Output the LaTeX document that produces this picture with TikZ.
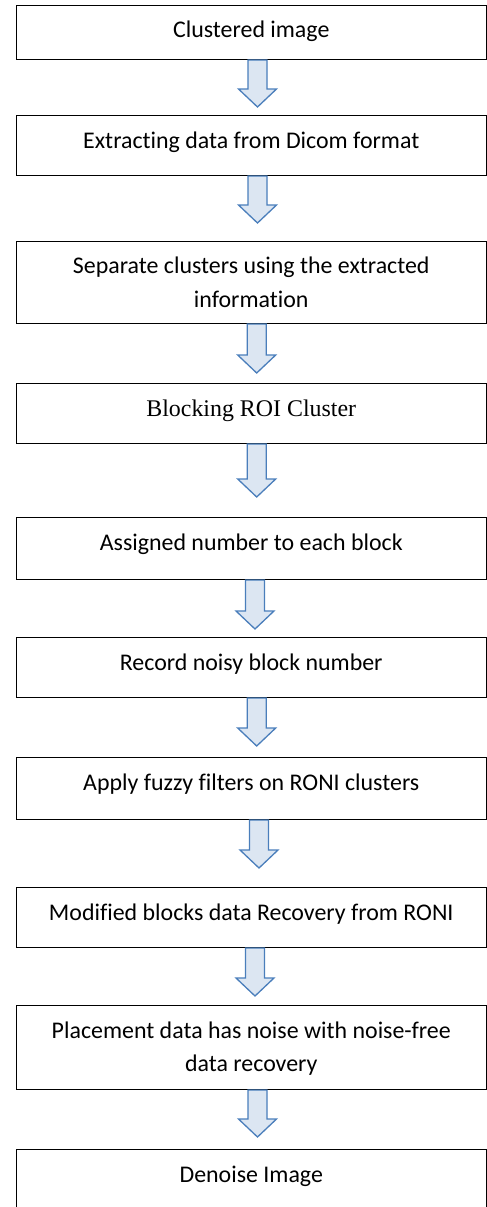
\documentclass[tikz,border=0pt]{standalone}
\usepackage{fontspec}
\setmainfont{Carlito}[Ligatures=CommonOff]
\newfontfamily\timesfont{Liberation Serif}
\usetikzlibrary{calc}
\definecolor{arrfill}{HTML}{DCE6F2}
\definecolor{arrline}{HTML}{4A7EBB}
\tikzset{
  stepbox/.style={draw=black, line width=1pt, fill=white, inner sep=0pt,
    minimum width=469.5pt, anchor=north},
  steptext/.style={font=\fontsize{23.9}{33.4}\selectfont, inner sep=0pt,
    anchor=base, align=center},
  blockarrow/.style={draw=arrline, fill=arrfill, line width=1.3pt, line join=miter},
  arrowshadow/.style={fill=black, opacity=0.10, draw=none},
}
% #1 source box, #2 name of shaft-top coordinate, #3 x centre, #4 shaft length
\newcommand\flowarrow[4]{%
  \coordinate (#2x) at (#3,0);
  \coordinate (#2) at (#1.south -| #2x);
  \fill[arrowshadow, xshift=0.8pt, yshift=-2.5pt] (#2) ++(-9.5,0) -- ++(0,#4) -- ++(-9.5,0)
     -- ++(19,18) -- ++(19,-18) -- ++(-9.5,0) -- ++(0,-#4) -- cycle;
  \draw[blockarrow] (#2) ++(-9.5,0) -- ++(0,#4) -- ++(-9.5,0)
     -- ++(19,18) coordinate (#2tip) -- ++(19,-18) -- ++(-9.5,0) -- ++(0,-#4) -- cycle;
}
\begin{document}
\begin{tikzpicture}[x=1pt,y=-1pt]
\useasboundingbox (0,0) rectangle (487,1207);
% boxes
\node[stepbox, minimum height=54pt] (b1) at (251.25,5) {};
\node[stepbox, minimum height=60pt] (b2) at (251.25,115) {};
\node[stepbox, minimum height=82pt] (b3) at (251.25,241) {};
\node[stepbox, minimum height=60pt] (b4) at (251.25,383) {};
\node[stepbox, minimum height=62pt] (b5) at (251.25,517) {};
\node[stepbox, minimum height=60pt] (b6) at (251.25,637) {};
\node[stepbox, minimum height=62pt] (b7) at (251.25,757) {};
\node[stepbox, minimum height=60pt] (b8) at (251.25,887) {};
\node[stepbox, minimum height=84pt] (b9) at (251.25,1005) {};
\node[stepbox, minimum height=70pt] (b10) at (251.25,1149) {};
% texts
\node[steptext] (t1) at ([yshift=-33pt]b1.north) {Clustered image};
\node[steptext] (t2) at ([yshift=-33pt]b2.north) {Extracting data from Dicom format};
\node[steptext] (t3) at ([yshift=-66.3pt]b3.north) {Separate clusters using the extracted\\information};
\node[steptext, font=\timesfont\fontsize{23.9}{30}\selectfont] (t4) at ([yshift=-33pt]b4.north) {Blocking ROI Cluster};
\node[steptext] (t5) at ([yshift=-33pt]b5.north) {Assigned number to each block};
\node[steptext] (t6) at ([yshift=-33pt]b6.north) {Record noisy block number};
\node[steptext] (t7) at ([yshift=-33pt]b7.north) {Apply fuzzy filters on RONI clusters};
\node[steptext] (t8) at ([yshift=-33pt]b8.north) {Modified blocks data Recovery from RONI};
\node[steptext] (t9) at ([yshift=-66.7pt]b9.north) {Placement data has noise with noise-free\\data recovery};
\node[steptext] (t10) at ([yshift=-33.7pt]b10.north) {Denoise Image};
% arrows
\flowarrow{b1}{a1}{257.5}{29}
\flowarrow{b2}{a2}{257.5}{29}
\flowarrow{b3}{a3}{256.7}{31}
\flowarrow{b4}{a4}{256.7}{35}
\flowarrow{b5}{a5}{255}{31}
\flowarrow{b6}{a6}{256.7}{30}
\flowarrow{b7}{a7}{259}{30}
\flowarrow{b8}{a8}{255}{30}
\flowarrow{b9}{a9}{257.5}{29}
\end{tikzpicture}
\end{document}
